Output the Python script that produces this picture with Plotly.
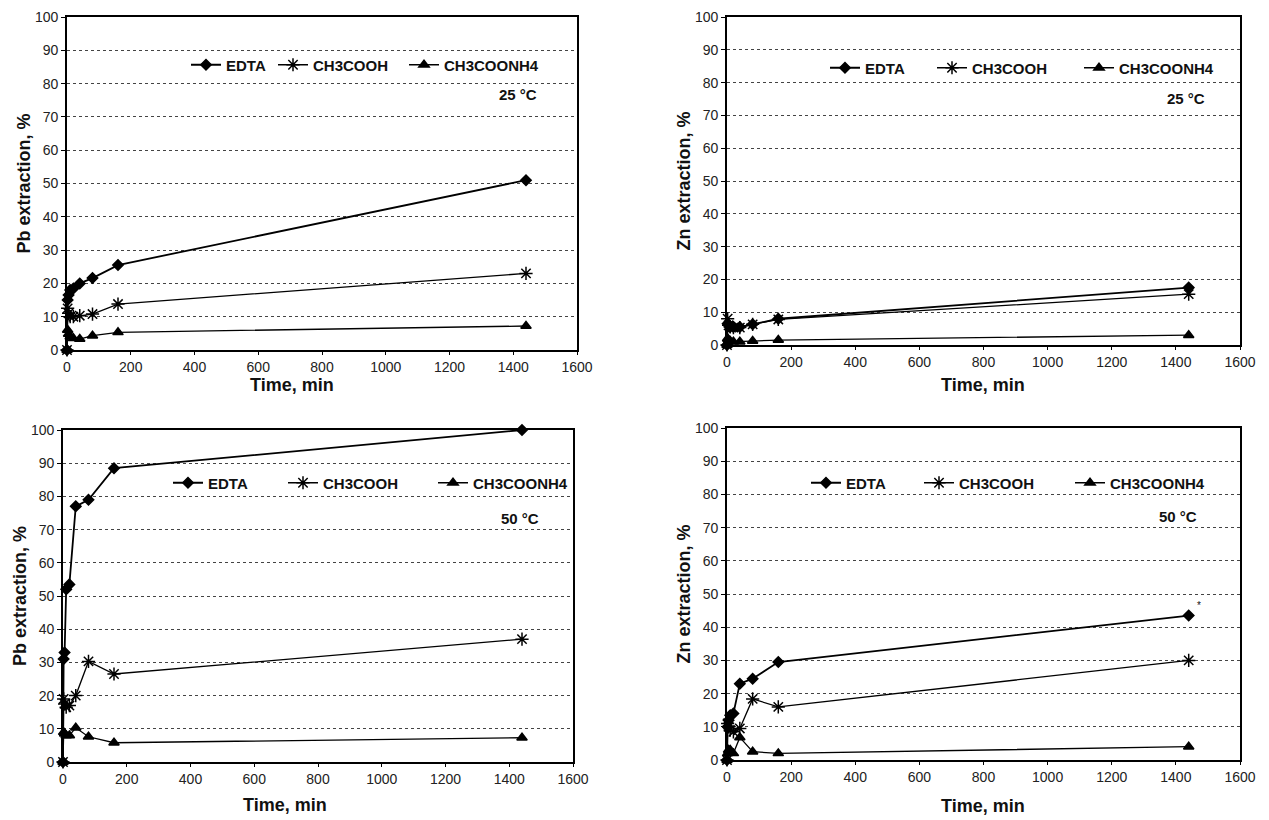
import plotly.graph_objects as go

# ---------------- data ----------------
time_min = [0, 2, 5, 10, 20, 40, 80, 160, 1440]
series_names = ["EDTA", "CH3COOH", "CH3COONH4"]

pb_25_edta = [0, 15, 16.5, 18, 18.5, 20, 21.6, 25.5, 51]
pb_25_acetic = [0, 12.5, 11, 10, 10, 10.3, 10.8, 13.8, 23]
pb_25_ammon = [0, 6, 4.8, 4, 3.5, 3.3, 4.3, 5.3, 7.2]

zn_25_edta = [0, 6.5, 6, 5.5, 5.5, 5.5, 6.3, 8, 17.5]
zn_25_acetic = [0, 8, 6, 5.5, 5.3, 5.3, 6.3, 7.8, 15.5]
zn_25_ammon = [0, 2, 1.5, 1.2, 1, 1, 1.2, 1.5, 3]

pb_50_edta = [0, 31, 33, 52, 53.5, 77, 79, 88.5, 100]
pb_50_acetic = [0, 19, 17.5, 16.5, 17, 20, 30.3, 26.5, 37]
pb_50_ammon = [0, 9, 8.5, 8, 8, 10.3, 7.6, 5.8, 7.3]

zn_50_edta = [0, 10, 12, 13.5, 14, 23, 24.5, 29.5, 43.5]
zn_50_acetic = [0, 11, 10, 9, 8.5, 9.5, 18.4, 16, 30]
zn_50_ammon = [0, 2, 3, 3, 2, 6.8, 2.5, 2, 4]

x_title = "Time, min"
panels = [
    ([pb_25_edta, pb_25_acetic, pb_25_ammon], "Pb extraction, %", "25 °C"),
    ([zn_25_edta, zn_25_acetic, zn_25_ammon], "Zn extraction, %", "25 °C"),
    ([pb_50_edta, pb_50_acetic, pb_50_ammon], "Pb extraction, %", "50 °C"),
    ([zn_50_edta, zn_50_acetic, zn_50_ammon], "Zn extraction, %", "50 °C"),
]

# ---------------- layout geometry (screen px) ----------------
W, H = 1269, 820
OFF = 8  # page body margin in the browser


def fx(px):
    return (px - OFF) / W


def fy(py):
    return 1 - (py - OFF) / H


boxes = [  # x0, x1, ytop, ybottom
    (67, 577, 17, 350),
    (727, 1240, 17, 345),
    (63, 573, 430, 762),
    (727, 1240, 428, 760),
]
legend_pos = [(186, 65), (825, 68), (168, 483), (806, 483)]
legend_widths = [[42, 86, 100], [62, 102, 100], [70, 105, 100], [68, 106, 100]]
temp_pos = [(518, 95), (1186, 99), (520, 518), (1178, 516)]
xtitle_pos = [(292, 385), (983, 385), (285, 805), (983, 806)]

symbols = ["diamond", "asterisk-open", "triangle-up"]
msizes = [8, 11, 9]
lwidths = [1.8, 1.3, 1.3]

FONT = "Liberation Sans, Arial, sans-serif"

fig = go.Figure()
layout = dict(
    width=W, height=H,
    margin=dict(l=0, r=0, t=0, b=0, autoexpand=False),
    paper_bgcolor="white", plot_bgcolor="white",
    font=dict(family=FONT, color="#111"),
    showlegend=True,
    annotations=[],
)

for i, (data, ytitle, temp) in enumerate(panels):
    n = i + 1
    xa = "xaxis" if n == 1 else f"xaxis{n}"
    ya = "yaxis" if n == 1 else f"yaxis{n}"
    xr = "x" if n == 1 else f"x{n}"
    yr = "y" if n == 1 else f"y{n}"
    lg = "legend" if n == 1 else f"legend{n}"
    x0, x1, yt, yb = boxes[i]
    layout[xa] = dict(
        domain=[fx(x0), fx(x1)], anchor=yr, range=[0, 1600], dtick=200,
        ticks="outside", ticklen=3, tickcolor="black", automargin=False,
        ticklabeloverflow="allow",
        showline=True, linecolor="black", linewidth=1.8, mirror=True,
        showgrid=False, zeroline=False,
        tickfont=dict(size=14, family=FONT, color="#222"),
    )
    layout[ya] = dict(
        domain=[fy(yb), fy(yt)], anchor=xr, range=[0, 100], dtick=10,
        ticks="outside", ticklen=4, tickcolor="black", automargin=False,
        ticklabeloverflow="allow",
        showline=True, linecolor="black", linewidth=1.8, mirror=True,
        showgrid=True, gridcolor="#444", griddash="dot", gridwidth=1,
        zeroline=False,
        tickfont=dict(size=14, family=FONT, color="#222"),
        title=dict(text=ytitle, font=dict(size=18, family=FONT, weight="bold", color="#111"), standoff=0),
    )
    lx, ly = legend_pos[i]
    layout[lg] = dict(
        x=fx(lx), y=fy(ly), xanchor="left", yanchor="middle",
        orientation="h", bgcolor="rgba(0,0,0,0)", itemwidth=30,
        font=dict(size=15, family=FONT, weight="bold", color="#111"),
        traceorder="normal", entrywidthmode="pixels",
    )
    for k, (name, vals) in enumerate(zip(series_names, data)):
        fig.add_trace(go.Scatter(
            x=time_min, y=vals, name=name, mode="lines+markers",
            xaxis=xr, yaxis=yr, legend=lg, cliponaxis=False,
            legendwidth=legend_widths[i][k],
            line=dict(color="black", width=lwidths[k]),
            marker=dict(symbol=symbols[k], size=msizes[k], color="black",
                        line=dict(color="black", width=1.5)),
        ))
    tx, ty = temp_pos[i]
    layout["annotations"].append(dict(
        text=temp, xref="paper", yref="paper", x=fx(tx), y=fy(ty),
        showarrow=False, xanchor="center", yanchor="middle",
        font=dict(size=15, family=FONT, weight="bold", color="#111"),
    ))
    ax_, ay_ = xtitle_pos[i]
    layout["annotations"].append(dict(
        text=x_title, xref="paper", yref="paper", x=fx(ax_), y=fy(ay_),
        showarrow=False, xanchor="center", yanchor="middle",
        font=dict(size=18, family=FONT, weight="bold", color="#111"),
    ))

layout["annotations"].append(dict(
    text="*", xref="x4", yref="y4", x=1440, y=zn_50_edta[-1], xshift=10, yshift=10,
    showarrow=False, font=dict(size=10, family=FONT, color="#111"),
))

fig.update_layout(**layout)
fig.write_html("out.html")
